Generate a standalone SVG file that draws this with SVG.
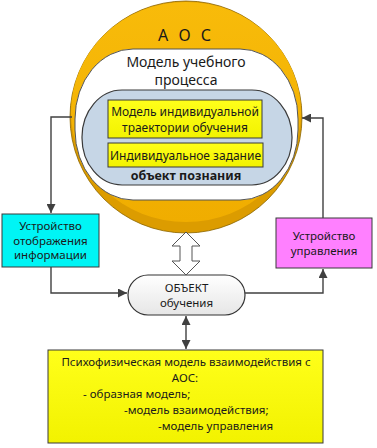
<svg xmlns="http://www.w3.org/2000/svg" width="377" height="448" viewBox="0 0 377 448">
<defs>
<style>
.t{font-family:"Noto Sans","Open Sans","DejaVu Sans",sans-serif;fill:#1a1a1a;text-anchor:middle}
.ln{fill:none;stroke:#404040;stroke-width:1.4}
.box{stroke:#3a3a3a;stroke-width:1}
</style>
<marker id="ah" viewBox="0 0 10 10" refX="10" refY="5" markerWidth="9" markerHeight="9" markerUnits="userSpaceOnUse" orient="auto-start-reverse">
<path d="M0,0 L10,5 L0,10 Z" fill="#404040"/>
</marker>
<linearGradient id="gO" x1="0" y1="0" x2="0" y2="1">
<stop offset="0" stop-color="#f8bb0a"/>
<stop offset="1" stop-color="#f0ad00"/>
</linearGradient>
<linearGradient id="gW" x1="0" y1="0" x2="0" y2="1">
<stop offset="0" stop-color="#ffffff"/>
<stop offset="1" stop-color="#e6e6e6"/>
</linearGradient>
<linearGradient id="gY" x1="0" y1="0" x2="0" y2="1">
<stop offset="0" stop-color="#ffff1a"/>
<stop offset="1" stop-color="#f2f200"/>
</linearGradient>
</defs>
<g id="aos">
<circle cx="186" cy="117" r="116" fill="#dc9c00" stroke="#8a6400" stroke-width="0.8"/>
<ellipse cx="186" cy="112" rx="115" ry="110" fill="url(#gO)"/>
<text class="t" x="186" y="41" font-size="16" letter-spacing="3">А О С</text>
</g>
<g id="model">
<rect x="75" y="49" width="223" height="151" rx="58" ry="70" fill="#ffffff" stroke="#555555" stroke-width="1"/>
<text class="t" x="186" y="67" font-size="14">Модель учебного</text>
<text class="t" x="186" y="85" font-size="14">процесса</text>
</g>
<g id="object-knowledge">
<rect x="82" y="90" width="210" height="95" rx="40" ry="47" fill="#c6d6e6" stroke="#3a3a3a" stroke-width="1.2"/>
<text class="t" x="186" y="180" font-size="12.5" font-weight="bold">объект познания</text>
</g>
<g id="trajectory">
<rect class="box" x="108" y="100" width="154" height="38" fill="url(#gY)"/>
<text class="t" x="185" y="115.5" font-size="12">Модель индивидуальной</text>
<text class="t" x="185" y="131.5" font-size="12">траектории обучения</text>
</g>
<g id="task">
<rect class="box" x="108" y="143" width="155" height="24" fill="url(#gY)"/>
<text class="t" x="185.5" y="159.5" font-size="12">Индивидуальное задание</text>
</g>
<g id="display">
<rect class="box" x="2" y="214" width="97" height="53" fill="#00f5f5"/>
<text class="t" x="50.5" y="230" font-size="11.5">Устройство</text>
<text class="t" x="50.5" y="244.5" font-size="11.5">отображения</text>
<text class="t" x="50.5" y="259" font-size="11.5">информации</text>
</g>
<g id="control">
<rect class="box" x="276" y="218" width="96" height="50" fill="#ff80ff"/>
<text class="t" x="324" y="240" font-size="11.5">Устройство</text>
<text class="t" x="324" y="255" font-size="11.5">управления</text>
</g>
<g id="learner">
<rect x="128" y="275" width="117" height="40" rx="20" ry="20" fill="url(#gW)" stroke="#333333" stroke-width="1.2"/>
<text class="t" x="186.5" y="292" font-size="11.5">ОБЪЕКТ</text>
<text class="t" x="186.5" y="307" font-size="11.5">обучения</text>
</g>
<g id="psycho">
<rect class="box" x="48" y="350" width="275" height="93" fill="url(#gY)"/>
<text class="t" x="186" y="366" font-size="11.5">Психофизическая модель взаимодействия с</text>
<text class="t" x="185" y="382" font-size="11.5">АОС:</text>
<text class="t" x="83" y="398" font-size="11.5" text-anchor="start" style="text-anchor:start">- образная модель;</text>
<text class="t" x="124" y="414" font-size="11.5" style="text-anchor:start">-модель взаимодействия;</text>
<text class="t" x="158" y="430" font-size="11.5" style="text-anchor:start">-модель управления</text>
</g>
<g id="connectors">
<path class="ln" d="M72,117 H51 V213" marker-end="url(#ah)"/>
<path class="ln" d="M51,267 V293 H127" marker-end="url(#ah)"/>
<path class="ln" d="M245,293 H323 V269" marker-end="url(#ah)"/>
<path class="ln" d="M323,218 V118 H302" marker-end="url(#ah)"/>
<path class="ln" d="M186,316 V349" marker-start="url(#ah)" marker-end="url(#ah)"/>
<path d="M186,232 L200,246 L192,246 L192,261 L200,261 L186,275 L172,261 L180,261 L180,246 L172,246 Z" fill="#ffffff" stroke="#555555" stroke-width="1"/>
</g>
</svg>
